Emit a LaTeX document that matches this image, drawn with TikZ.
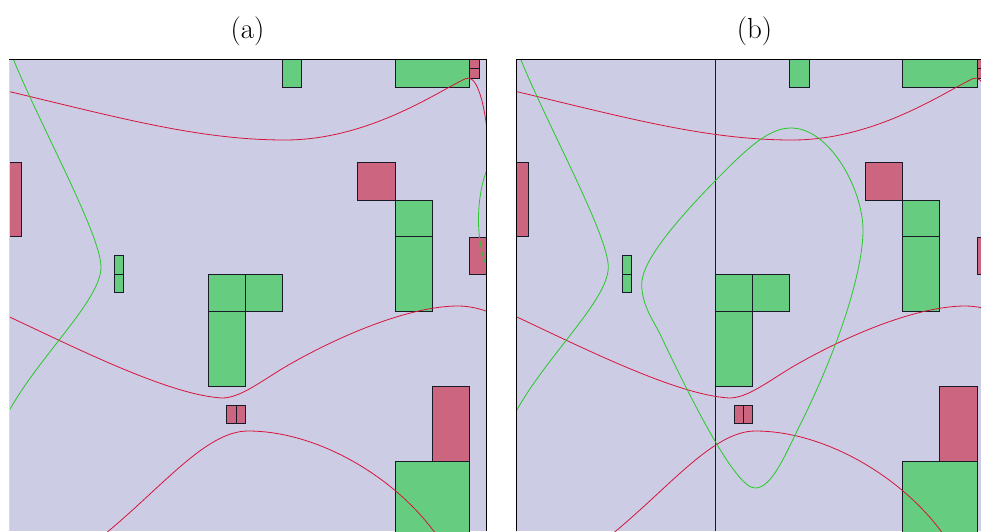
\documentclass[tikz,border=0pt]{standalone}
\definecolor{bglav}{RGB}{204,204,228}
\definecolor{boxgreen}{RGB}{102,204,128}
\definecolor{boxred}{RGB}{204,102,128}
\definecolor{edge}{RGB}{25,25,40}
\definecolor{curvered}{RGB}{215,20,60}
\definecolor{curvegreen}{RGB}{40,200,40}
\tikzset{
  gbox/.style={fill=boxgreen, draw=edge, line width=0.9pt},
  rbox/.style={fill=boxred, draw=edge, line width=0.9pt},
  rcurve/.style={draw=curvered, line width=0.8pt},
  gcurve/.style={draw=curvegreen, line width=0.8pt},
  framek/.style={draw=black, line width=1pt},
  titlek/.style={font=\fontsize{29}{35}\selectfont, inner sep=0pt}
}
\newcommand\panelboxes{%
  \path[gbox] (282.3,59) rectangle (301.7,87.3);
  \path[gbox] (395.3,59) rectangle (469.7,87.3);
  \path[rbox] (469.7,59) rectangle (479.3,68.7);
  \path[rbox] (469.7,68.7) rectangle (479.3,78.3);
  \path[rbox] (357.7,162.7) rectangle (395.3,200);
  \path[gbox] (395.3,200) rectangle (432.3,236.7);
  \path[gbox] (395.3,236.7) rectangle (432.3,311.7);
  \path[rbox] (469.7,237) rectangle (490,274);
  \path[rbox] (5,162.3) rectangle (21.3,236.7);
  \path[gbox] (114.7,255.7) rectangle (123.7,274.2);
  \path[gbox] (114.7,274.2) rectangle (123.7,292.7);
  \path[gbox] (208,274) rectangle (245.3,311.7);
  \path[gbox] (245.3,274) rectangle (282.3,311.7);
  \path[gbox] (208,311.7) rectangle (245.3,386);
  \path[rbox] (226.7,405) rectangle (236,423.7);
  \path[rbox] (236,405) rectangle (245.3,423.7);
  \path[rbox] (432.3,386) rectangle (469.7,461);
  \path[gbox] (395.3,461) rectangle (469.7,545);
}
\newcommand\panelcurves{%
  \draw[rcurve] (0,89.4) -- (9,91.5) .. controls (120,118) and (200,140) .. (285,140)
     .. controls (370,140) and (440,90) .. (466,78.5)
     .. controls (476,74) and (483,100) .. (486,122) -- (487,130);
  \draw[rcurve] (0,312.5) -- (9,316.7) .. controls (80,350) and (170,395) .. (222,398)
     .. controls (240,398) and (260,382) .. (285,367)
     .. controls (340,335) and (410,306) .. (458,306)
     .. controls (470,306) and (480,309) .. (486,311) -- (495,314);
  \draw[rcurve] (100,538) .. controls (160,490) and (205,431) .. (248,431)
     .. controls (320,431) and (400,480) .. (440,540);
  \draw[gcurve] (8,47) -- (13.3,59) .. controls (40,125) and (101,235) .. (101,267)
     .. controls (101,300) and (40,355) .. (9,411) -- (3,420);
}
\begin{document}
\begin{tikzpicture}[x=1pt,y=-1pt]
\useasboundingbox (0,0) rectangle (981,531);
\clip (0,0) rectangle (981,531);
\node[titlek] (ta) at (247.5,31) {(a)};
\node[titlek] (tb) at (754.5,31) {(b)};
% panel (a)
\begin{scope}
  \clip (9,59) rectangle (486,531);
  \fill[bglav] (9,59) rectangle (486,531);
  \panelboxes
  \panelcurves
  \draw[gcurve] (490,160) -- (486,172) .. controls (476,200) and (476,240) .. (486,265) -- (490,275);
\end{scope}
\draw[draw=black!15, line width=1pt] (9,59) -- (9,531);
\draw[framek] (9,59) -- (486,59) -- (486,531);
% panel (b)
\begin{scope}[xshift=507.3pt]
  \clip (9,59) rectangle (486,531);
  \fill[bglav] (9,59) rectangle (486,531);
  \panelboxes
  \draw[draw=edge, line width=1pt] (208.4,59) -- (208.4,531);
  \panelcurves
\end{scope}
\draw[gcurve] (791,128) .. controls (770,128) and (750,145) .. (715,181)
   .. controls (680,217) and (641.7,260) .. (641.7,284)
   .. controls (641.7,305) and (653,320) .. (660,334)
   .. controls (690,397) and (735,488) .. (755,488)
   .. controls (772,488) and (785,455) .. (800,425)
   .. controls (840,345) and (863,270) .. (863,230)
   .. controls (863,190) and (830,128) .. (791,128) -- cycle;
\draw[framek] (516.3,531) -- (516.3,59) -- (993.3,59) -- (993.3,531);
\end{tikzpicture}
\end{document}
